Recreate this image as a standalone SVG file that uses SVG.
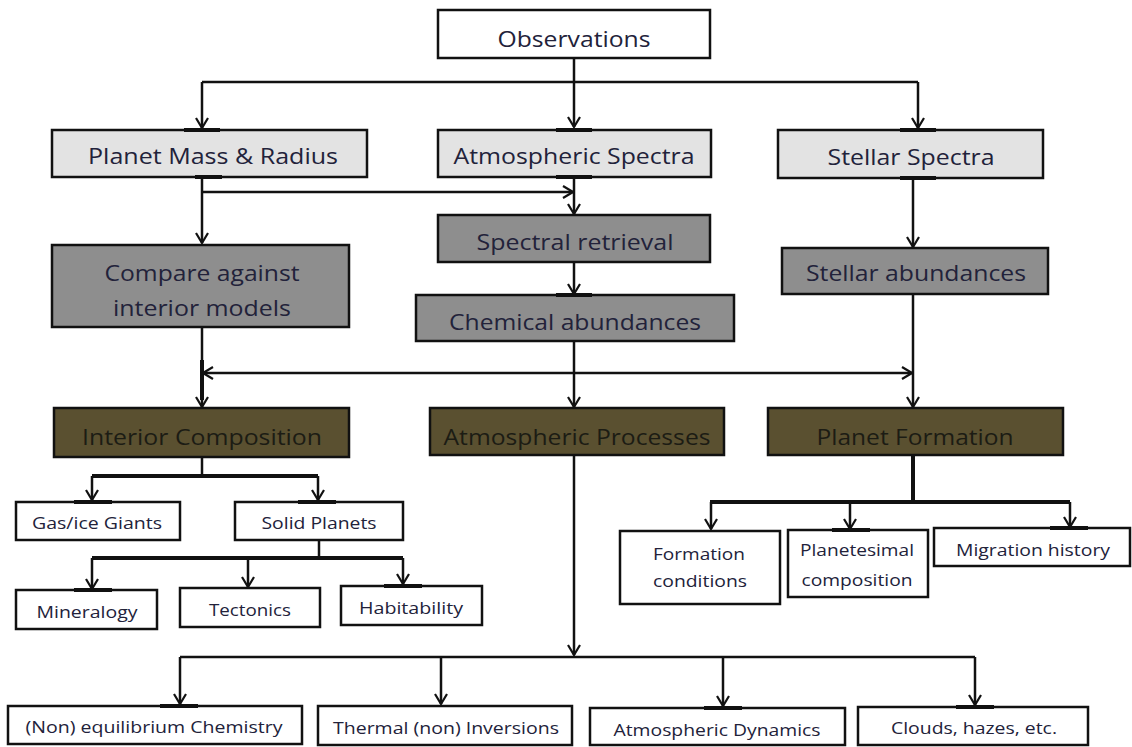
<svg xmlns="http://www.w3.org/2000/svg" width="1132" height="747" viewBox="0 0 1132 747">
<style>
.box{stroke:#111;stroke-width:2.5}
.l1{fill:#e3e3e3}
.g{fill:#8e8e8e}
.o{fill:#5a5030}
.w{fill:#fff}
text{font-family:"Open Sans","Liberation Sans",sans-serif;fill:#22223a;text-anchor:middle;dominant-baseline:central}
.big{font-size:22px}
.sm{font-size:17px}
.dk{fill:#1c1c14}
.c{fill:none;stroke:#111;stroke-width:2.5}
.th{fill:none;stroke:#111;stroke-width:4}
.pad{stroke:#111;stroke-width:4}
</style>
<defs>
<marker id="ah" markerUnits="userSpaceOnUse" viewBox="0 0 12 14" refX="11" refY="7" markerWidth="12" markerHeight="14" orient="auto">
<path d="M1,1 L11,7 L1,13" fill="none" stroke="#111" stroke-width="2.2"/>
</marker>
</defs>

<g id="observations"><rect class="box w" x="438" y="10" width="272" height="48"/><text class="big" x="574" y="38" textLength="153" lengthAdjust="spacingAndGlyphs">Observations</text></g>
<g id="planet-mass"><rect class="box l1" x="52" y="130" width="315" height="47"/><text class="big" x="213" y="155" textLength="250" lengthAdjust="spacingAndGlyphs">Planet Mass &amp; Radius</text></g>
<g id="atm-spectra"><rect class="box l1" x="438" y="130" width="273" height="47"/><text class="big" x="574" y="155" textLength="241" lengthAdjust="spacingAndGlyphs">Atmospheric Spectra</text></g>
<g id="stellar-spectra"><rect class="box l1" x="778" y="130" width="265" height="48"/><text class="big" x="911" y="156" textLength="167" lengthAdjust="spacingAndGlyphs">Stellar Spectra</text></g>
<g id="spectral-retrieval"><rect class="box g" x="438" y="215" width="272" height="47"/><text class="big" x="575" y="241" textLength="197" lengthAdjust="spacingAndGlyphs">Spectral retrieval</text></g>
<g id="compare"><rect class="box g" x="52" y="245" width="297" height="82"/><text class="big" x="202" y="272" textLength="195" lengthAdjust="spacingAndGlyphs">Compare against</text><text class="big" x="202" y="307" textLength="178" lengthAdjust="spacingAndGlyphs">interior models</text></g>
<g id="chem-abund"><rect class="box g" x="416" y="295" width="318" height="46"/><text class="big" x="575" y="321" textLength="252" lengthAdjust="spacingAndGlyphs">Chemical abundances</text></g>
<g id="stellar-abund"><rect class="box g" x="782" y="248" width="266" height="46"/><text class="big" x="916" y="272" textLength="220" lengthAdjust="spacingAndGlyphs">Stellar abundances</text></g>
<g id="interior-comp"><rect class="box o" x="54" y="408" width="295" height="49"/><text class="big dk" x="202" y="436" textLength="240" lengthAdjust="spacingAndGlyphs">Interior Composition</text></g>
<g id="atm-processes"><rect class="box o" x="430" y="408" width="294" height="47"/><text class="big dk" x="577" y="436" textLength="267" lengthAdjust="spacingAndGlyphs">Atmospheric Processes</text></g>
<g id="planet-formation"><rect class="box o" x="768" y="408" width="295" height="47"/><text class="big dk" x="915" y="436" textLength="197" lengthAdjust="spacingAndGlyphs">Planet Formation</text></g>
<g id="gas-ice"><rect class="box w" x="16" y="502" width="164" height="38"/><text class="sm" x="97" y="522" textLength="130" lengthAdjust="spacingAndGlyphs">Gas/ice Giants</text></g>
<g id="solid-planets"><rect class="box w" x="235" y="502" width="168" height="38"/><text class="sm" x="319" y="522" textLength="115" lengthAdjust="spacingAndGlyphs">Solid Planets</text></g>
<g id="mineralogy"><rect class="box w" x="16" y="590" width="141" height="39"/><text class="sm" x="87" y="611" textLength="101" lengthAdjust="spacingAndGlyphs">Mineralogy</text></g>
<g id="tectonics"><rect class="box w" x="180" y="588" width="140" height="39"/><text class="sm" x="250" y="609" textLength="82" lengthAdjust="spacingAndGlyphs">Tectonics</text></g>
<g id="habitability"><rect class="box w" x="341" y="586" width="141" height="39"/><text class="sm" x="411" y="607" textLength="104" lengthAdjust="spacingAndGlyphs">Habitability</text></g>
<g id="formation-cond"><rect class="box w" x="620" y="531" width="160" height="73"/><text class="sm" x="699" y="553" textLength="92" lengthAdjust="spacingAndGlyphs">Formation</text><text class="sm" x="700" y="580" textLength="94" lengthAdjust="spacingAndGlyphs">conditions</text></g>
<g id="planetesimal"><rect class="box w" x="788" y="530" width="140" height="67"/><text class="sm" x="857" y="549" textLength="114" lengthAdjust="spacingAndGlyphs">Planetesimal</text><text class="sm" x="857" y="579" textLength="111" lengthAdjust="spacingAndGlyphs">composition</text></g>
<g id="migration"><rect class="box w" x="934" y="528" width="196" height="38"/><text class="sm" x="1033" y="549" textLength="154" lengthAdjust="spacingAndGlyphs">Migration history</text></g>
<g id="non-eq"><rect class="box w" x="8" y="706" width="294" height="38"/><text class="sm" x="154" y="726" textLength="257" lengthAdjust="spacingAndGlyphs">(Non) equilibrium Chemistry</text></g>
<g id="thermal"><rect class="box w" x="318" y="706" width="254" height="39"/><text class="sm" x="446" y="727" textLength="226" lengthAdjust="spacingAndGlyphs">Thermal (non) Inversions</text></g>
<g id="dynamics"><rect class="box w" x="590" y="708" width="255" height="37"/><text class="sm" x="717" y="729" textLength="207" lengthAdjust="spacingAndGlyphs">Atmospheric Dynamics</text></g>
<g id="clouds"><rect class="box w" x="858" y="707" width="230" height="38"/><text class="sm" x="974" y="727" textLength="166" lengthAdjust="spacingAndGlyphs">Clouds, hazes, etc.</text></g>

<g id="connectors">
<path class="c" d="M574,58 V127" marker-end="url(#ah)"/>
<path class="c" d="M202,82 H918"/>
<path class="c" d="M202,82 V128" marker-end="url(#ah)"/>
<path class="c" d="M918,82 V128" marker-end="url(#ah)"/>
<path class="c" d="M202,177 V243" marker-end="url(#ah)"/>
<path class="c" d="M202,192 H573" marker-end="url(#ah)"/>
<path class="c" d="M574,177 V214" marker-end="url(#ah)"/>
<path class="c" d="M574,262 V294" marker-end="url(#ah)"/>
<path class="c" d="M913,178 V247" marker-end="url(#ah)"/>
<path class="c" d="M202,327 V407" marker-end="url(#ah)"/>
<path class="c" d="M574,341 V407" marker-end="url(#ah)"/>
<path class="c" d="M913,294 V407" marker-end="url(#ah)"/>
<path class="c" d="M574,373 H203" marker-end="url(#ah)"/>
<path class="c" d="M574,373 H912" marker-end="url(#ah)"/>
<path class="th" d="M202,360 V400"/>
<path class="c" d="M202,457 V476"/>
<path class="th" d="M92,476 H318"/>
<path class="c" d="M92,476 V500" marker-end="url(#ah)"/>
<path class="c" d="M318,476 V500" marker-end="url(#ah)"/>
<path class="c" d="M319,540 V558"/>
<path class="th" d="M92,558 H403"/>
<path class="c" d="M92,558 V589" marker-end="url(#ah)"/>
<path class="c" d="M248,558 V587" marker-end="url(#ah)"/>
<path class="c" d="M403,558 V584" marker-end="url(#ah)"/>
<path class="c" d="M574,455 V655" marker-end="url(#ah)"/>
<path class="c" d="M180,657 H975"/>
<path class="c" d="M180,657 V704" marker-end="url(#ah)"/>
<path class="c" d="M441,657 V704" marker-end="url(#ah)"/>
<path class="c" d="M723,657 V706" marker-end="url(#ah)"/>
<path class="c" d="M975,657 V705" marker-end="url(#ah)"/>
<path class="th" d="M913,455 V502"/>
<path class="th" d="M710,502 H1070"/>
<path class="c" d="M711,502 V529" marker-end="url(#ah)"/>
<path class="c" d="M850,502 V529" marker-end="url(#ah)"/>
<path class="c" d="M1070,502 V527" marker-end="url(#ah)"/>
<path class="pad" d="M184,130 H220 M195,177 H222 M556,130 H592 M556,177 H592 M900,130 H936 M900,178 H936 M556,295 H592 M74,502 H112 M298,502 H336 M74,590 H112 M384,586 H422 M160,706 H198 M956,707 H994 M832,530 H870 M1050,528 H1088 M704,708 H742"/>
</g>
</svg>
